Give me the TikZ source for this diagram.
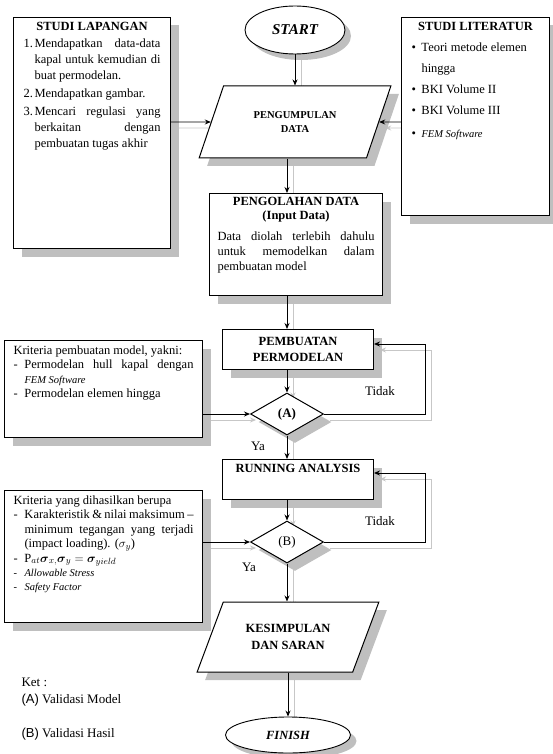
\documentclass[tikz,border=0pt]{standalone}
\usepackage{amsmath}
\usepackage{fontspec}
\setmainfont{Liberation Serif}
\setsansfont{Liberation Sans}
\usetikzlibrary{arrows.meta,shapes.geometric,shadows,calc}
\pgfdeclarelayer{background}
\pgfsetlayers{background,main}
\hyphenpenalty=10000
\exhyphenpenalty=10000

% connectors, drawn once as shadow and once in black
\newcommand{\drawlinks}{%
  \draw[conn] (start) -- (kumpul);
  \draw[conn] (lapangan.east |- kumpul) -- (kumpul.west);
  \draw[conn] (literatur.west |- kumpul) -- (kumpul.east);
  \draw[conn] (kumpul.south -| valA) -- (olah.north -| valA);
  \draw[conn] (olah.south -| valA) -- (buat.north -| valA);
  \draw[conn] (buat.south -| valA) -- (valA.north);
  \draw[conn] (krit1.east |- valA) -- (valA.west);
  \draw[conn] (valA.east) -| (loopA) -- (buat.east |- loopA);
  \draw[conn] (valA.south) -- (running.north -| valA);
  \draw[conn] (running.south -| valB) -- (valB.north);
  \draw[conn] (krit2.east |- valB) -- (valB.west);
  \draw[conn] (valB.east) -| (loopB) -- (running.east |- loopB);
  \draw[conn] (valB.south) -- (simpul.north -| valB);
  \draw[conn] (simpul.south -| finish) -- (finish.north);
}

\begin{document}
\begin{tikzpicture}[
  x=1pt, y=-1pt,
  every node/.style={font=\fontsize{12.5}{15}\selectfont},
  shd/.style={drop shadow={shadow xshift=8pt, shadow yshift=-8pt, fill=black!25, opacity=1}},
  box/.style={draw, fill=white, line width=1pt, inner sep=0pt, shd},
  sidebox/.style={box, anchor=north west, inner xsep=9pt, inner ysep=5pt},
  para/.style={box, trapezium, trapezium left angle=56, trapezium right angle=124,
    trapezium stretches=true, align=center, font=\bfseries\fontsize{10.5}{14}\selectfont},
  term/.style={draw, fill=white, ellipse, line width=0.9pt, inner sep=0pt,
    font=\bfseries\itshape\fontsize{15}{17}\selectfont,
    drop shadow={shadow xshift=6pt, shadow yshift=-6pt, fill=black!25, opacity=1}},
  dec/.style={box, diamond, minimum width=73pt, minimum height=42pt, font=\bfseries\fontsize{13}{15}\selectfont},
  conn/.style={line width=0.9pt, -{Stealth[length=6pt,width=5pt]}},
  lbl/.style={font=\fontsize{13}{15}\selectfont},
]
\useasboundingbox (0,0) rectangle (552,754);

\node[term, minimum width=100pt, minimum height=48pt] (start) at (295,30) {START};
\node[para, minimum width=192pt, minimum height=72pt] (kumpul) at (295,122) {PENGUMPULAN\\DATA};

\node[sidebox, inner xsep=10pt] (lapangan) at (13,17) {\begin{minipage}[t][221pt][t]{137pt}\fontsize{12.5}{16}\selectfont
  \centerline{\textbf{STUDI LAPANGAN}}\vspace{1pt}
  \hangindent=11pt\hangafter=1\noindent\makebox[11pt][l]{1.}Mendapatkan data-data kapal untuk kemudian di buat permodelan.\par\vspace{2pt}
  \hangindent=11pt\hangafter=1\noindent\makebox[11pt][l]{2.}Mendapatkan gambar.\par\vspace{2pt}
  \hangindent=11pt\hangafter=1\noindent\makebox[11pt][l]{3.}Mencari regulasi yang berkaitan dengan pembuatan tugas akhir\par
\end{minipage}};

\node[sidebox, inner xsep=10pt] (literatur) at (401,17) {\begin{minipage}[t][188pt][t]{128pt}\fontsize{12.5}{21}\selectfont
  \raggedright
  \centerline{\textbf{STUDI LITERATUR}}
  \hangindent=10pt\hangafter=1\noindent\makebox[10pt][l]{\textbullet}Teori metode elemen hingga\par
  \noindent\makebox[10pt][l]{\textbullet}BKI Volume II\par
  \noindent\makebox[10pt][l]{\textbullet}BKI Volume III\par\vspace{2pt}
  \noindent\makebox[10pt][l]{\textbullet}{\itshape\fontsize{10.5}{21}\selectfont FEM Software}\par
\end{minipage}};

\node[sidebox, inner xsep=8pt, inner ysep=4pt] (olah) at (209,193) {\begin{minipage}[t][94pt][t]{157pt}\fontsize{12.5}{15}\selectfont
  {\fontsize{12.5}{13.5}\selectfont\centerline{\textbf{PENGOLAHAN DATA}}\centerline{\textbf{(Input Data)}}}\vspace{6pt}
  \noindent Data diolah terlebih dahulu untuk memodelkan dalam pembuatan model\par
\end{minipage}};

\node[box, anchor=north west] (buat) at (222,329) {\begin{minipage}[c][40pt][c]{151pt}\centering
  \fontsize{12.5}{16}\selectfont\textbf{PEMBUATAN}\\\textbf{PERMODELAN}\end{minipage}};
\node[dec] (valA) at (287,414) {(A)};
\coordinate (loopA) at (425,344);

\node[sidebox] (krit1) at (4,340) {\begin{minipage}[t][87pt][t]{180pt}\fontsize{12.5}{14.5}\selectfont
  \noindent Kriteria pembuatan model, yakni:\par
  \hangindent=11pt\hangafter=1\noindent\makebox[11pt][l]{-}Permodelan hull kapal dengan {\itshape\fontsize{10.5}{13}\selectfont FEM Software}\par
  \hangindent=11pt\hangafter=1\noindent\makebox[11pt][l]{-}Permodelan elemen hingga\par
\end{minipage}};

\node[box, anchor=north west] (running) at (222,459) {\begin{minipage}[t][40pt][t]{151pt}\centering
  \rule{0pt}{13pt}\textbf{RUNNING ANALYSIS}\end{minipage}};
\node[dec, font=\fontsize{13}{15}\selectfont] (valB) at (287,542) {(B)};
\coordinate (loopB) at (425,473);

\node[sidebox] (krit2) at (4,490) {\begin{minipage}[t][122pt][t]{180pt}\fontsize{12.5}{14.5}\selectfont
  \noindent Kriteria yang dihasilkan berupa\par
  \hangindent=11pt\hangafter=1\noindent\makebox[11pt][l]{-}Karakteristik \& nilai maksimum~-- minimum tegangan yang terjadi (impact loading). ($\sigma_y$)\par
  \hangindent=11pt\hangafter=1\noindent\makebox[11pt][l]{-}$\mathrm{P}_{at}\boldsymbol{\sigma}_{x,}\boldsymbol{\sigma}_y = \boldsymbol{\sigma}_{yield}$\par
  {\itshape\fontsize{10.5}{14}\selectfont
  \noindent\makebox[11pt][l]{\upshape-}Allowable Stress\par
  \noindent\makebox[11pt][l]{\upshape-}Safety Factor\par}
\end{minipage}};

\node[para, minimum width=182pt, minimum height=70pt, font=\bfseries\fontsize{12.5}{17}\selectfont] (simpul) at (288,637) {KESIMPULAN\\DAN SARAN};
\node[term, minimum width=125pt, minimum height=36pt, font=\bfseries\itshape\fontsize{12.5}{14}\selectfont] (finish) at (288,735) {FINISH};

\node[lbl] (tidakA) at (380,391) {Tidak};
\node[lbl] (yaA) at (258,446) {Ya};
\node[lbl] (tidakB) at (380,521) {Tidak};
\node[lbl] (yaB) at (249,567) {Ya};

\node[lbl, anchor=west] (ket) at (18,682) {Ket :};
\node[lbl, anchor=west] (ketA) at (18,700) {{\sffamily(A)} Validasi Model};
\node[lbl, anchor=west] (ketB) at (18,734) {{\sffamily(B)} Validasi Hasil};

\begin{pgfonlayer}{background}
\begin{scope}[transform canvas={shift={(6pt,-6pt)}}, conn/.style={draw=black!22, line width=0.9pt, -{Stealth[length=6pt,width=5pt]}}]
\drawlinks
\end{scope}
\end{pgfonlayer}
\drawlinks
\end{tikzpicture}
\end{document}
